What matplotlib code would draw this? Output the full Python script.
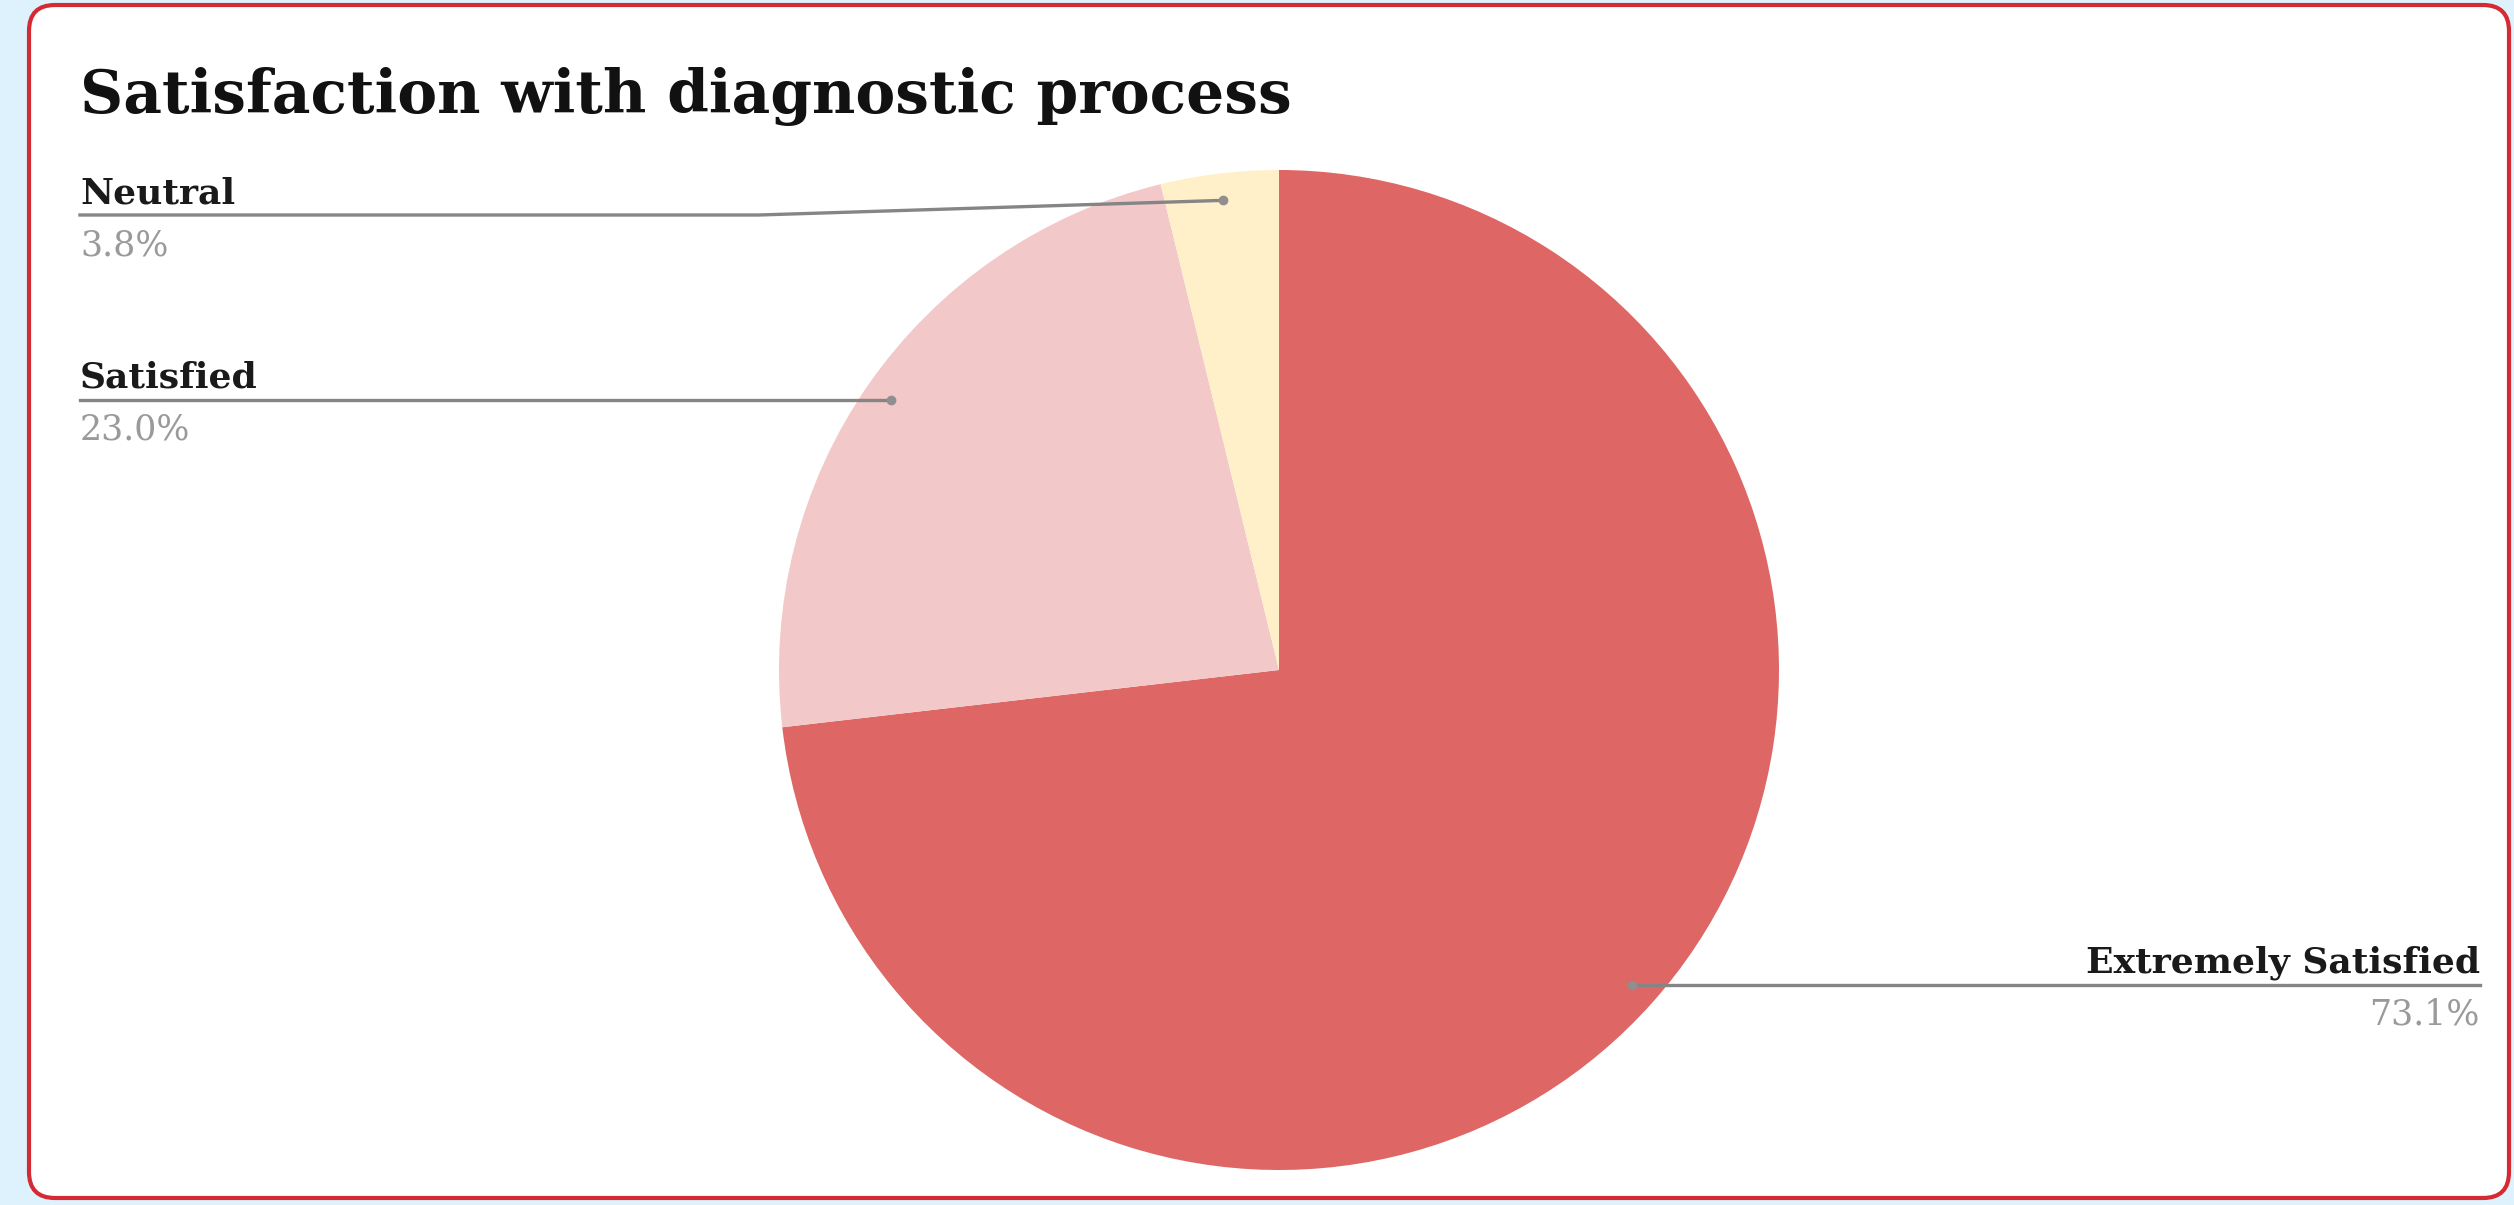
import matplotlib
matplotlib.use("Agg")
import matplotlib.pyplot as plt
from matplotlib.patches import FancyBboxPatch
import numpy as np

# data
labels = ["Extremely Satisfied", "Satisfied", "Neutral"]
shares = [73.1, 23.0, 3.8]
pct_text = ["73.1%", "23.0%", "3.8%"]
colors = ["#de6665", "#f2c8c8", "#fff0c9"]
title = "Satisfaction with diagnostic process"

W, H = 2514, 1205
fig = plt.figure(figsize=(W / 100, H / 100), dpi=100)
fig.patch.set_facecolor("#ddf2fc")

# background axes in pixel units (y down) for the card
bg = fig.add_axes([0, 0, 1, 1], zorder=0)
bg.set_xlim(0, W)
bg.set_ylim(H, 0)
bg.axis("off")
bg.add_patch(FancyBboxPatch((29, 5), 2480, 1193,
                            boxstyle="round,pad=0,rounding_size=26",
                            fc="white", ec="#d42a33", lw=3))

# pie
cx, cy, r = 1279, 670, 500
pax = fig.add_axes([(cx - r) / W, (H - cy - r) / H, 2 * r / W, 2 * r / H], zorder=1)
wedges, _ = pax.pie(shares, colors=colors, startangle=90, counterclock=False,
                    radius=1, wedgeprops=dict(lw=0))
pax.set_xlim(-1, 1)
pax.set_ylim(-1, 1)
pax.set_aspect("equal")
pax.axis("off")

# overlay for title, leader lines and labels
ov = fig.add_axes([0, 0, 1, 1], zorder=2)
ov.set_xlim(0, W)
ov.set_ylim(H, 0)
ov.axis("off")
ov.patch.set_alpha(0)

ov.text(80, 113, title, fontsize=43, fontweight="bold", family="DejaVu Serif",
        color="#111111", va="baseline", ha="left")

fig.canvas.draw()
to_px = ov.transData.inverted()

line_col = "#858585"
left_x, right_x = 80, 2480
for w, lab, pt in zip(wedges, labels, pct_text):
    mid = np.deg2rad((w.theta1 + w.theta2) / 2)
    dot = pax.transData.transform((0.946 * np.cos(mid), 0.946 * np.sin(mid)))
    dx, dy = to_px.transform(dot)
    if np.cos(mid) >= 0:
        ly = dy
        ov.plot([dx, right_x], [ly, ly], color=line_col, lw=2.4)
        tx, ha = right_x, "right"
    else:
        ly = max(dy, 215)
        bend = 759
        ov.plot([left_x, bend, dx], [ly, ly, dy], color=line_col, lw=2.4)
        tx, ha = left_x, "left"
    ov.plot(dx, dy, "o", ms=6, color="#8f8f8f")
    ov.text(tx, ly - 12, lab, fontsize=26, fontweight="bold", family="DejaVu Serif",
            color="#1a1a1a", ha=ha, va="baseline")
    ov.text(tx, ly + 13, pt, fontsize=25, family="DejaVu Serif",
            color="#9a9a9a", ha=ha, va="top")

fig.savefig("out.png", dpi=100, facecolor=fig.get_facecolor())
